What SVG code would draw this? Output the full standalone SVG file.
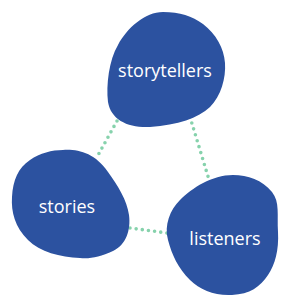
<svg xmlns="http://www.w3.org/2000/svg" width="300" height="300" viewBox="0 0 300 300">
<style>
.blob{fill:#2c52a0}
.lbl{font-family:"Open Sans","Noto Sans",sans-serif;font-size:18px;fill:#ffffff;text-anchor:middle}
.dot{fill:none;stroke:#86d2ac;stroke-width:3.6;stroke-linecap:round;stroke-dasharray:0 6.2}
</style>
<rect width="300" height="300" fill="#ffffff"/>
<g id="connectors">
<line class="dot" x1="117" y1="121" x2="97" y2="157"/>
<line class="dot" x1="190" y1="117" x2="210" y2="183"/>
<line class="dot" x1="130" y1="228" x2="167" y2="233"/>
</g>
<g id="storytellers">
<path class="blob" d="M163,12 C180,12 192,16 203,24 C216,34 224,48 225,63 C226,78 221,96 210,107 C198,118 178,125 150,127 C128,128 111,120 108,102 C106,85 109,60 118,45 C127,28 145,12 163,12 Z"/>
<text class="lbl" x="165" y="77">storytellers</text>
</g>
<g id="stories">
<path class="blob" d="M63,150 C78,149 95,153 108,172 C118,186 127,200 129,215 C131,230 126,245 113,251 C100,257 90,259 80,258 C60,257 40,252 28,240 C15,227 11,212 12,197 C13,180 18,168 30,160 C40,153 52,150 63,150 Z"/>
<text class="lbl" x="67" y="213">stories</text>
</g>
<g id="listeners">
<path class="blob" d="M233,175 C248,175 262,180 272,192 C280,202 277,215 278,232 C279,250 275,265 268,275 C260,287 250,294 232,295 C215,296 200,290 190,280 C178,268 172,255 168,240 C164,225 170,210 180,200 C192,188 212,175 233,175 Z"/>
<text class="lbl" x="225" y="245">listeners</text>
</g>
</svg>
